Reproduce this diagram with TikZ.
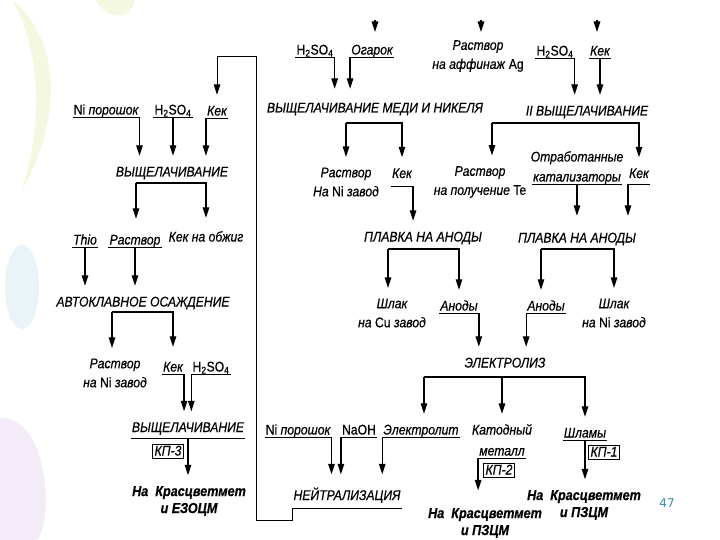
\documentclass[tikz,border=0pt]{standalone}
\usepackage{fontspec}
\setmainfont{Liberation Sans}[FakeStretch=0.87,FakeBold=0.5]
\newfontfamily\pagefont{DejaVu Sans}
\usetikzlibrary{arrows.meta,calc}
\definecolor{pagenum}{HTML}{3A8DAE}
\definecolor{petal}{HTML}{F5F8E0}
\definecolor{bubble}{HTML}{E9F3F8}
\definecolor{lilac}{HTML}{F3EBF7}
\newcommand{\hso}{\textup{H\textsubscript{2}SO\textsubscript{4}}}
\tikzset{>={Triangle[length=10.5pt,width=6.5pt]},
  every node/.style={font=\fontsize{14}{19}\selectfont\itshape,inner xsep=1pt,inner ysep=1.5pt},
  item/.style={text height=10pt,text depth=1pt},
  rule/.style={line width=1pt},
  feed/.style={item,append after command={\pgfextra{\let\feednode\tikzlastnode}
    (\feednode.south west) edge[rule] (\feednode.south east)}},
  note/.style={align=center},
  flow/.style={->,line width=1.3pt,shorten >=9pt},
  inlet/.style={->,line width=1.3pt},
  tag/.style={item,draw,line width=.7pt,inner xsep=2pt},
  dest/.style={note,font=\fontsize{14.5}{17}\selectfont\bfseries\itshape}}

\begin{document}
\begin{tikzpicture}[x=1pt,y=-1pt]
\path[use as bounding box,fill=white] (0,0) rectangle (720,540);
\fill[petal] (12,0) .. controls (62,40) and (62,120) .. (22,190) .. controls (44,120) and (40,50) .. (12,0) -- cycle;
\fill[petal] (95,0) .. controls (110,22) and (130,20) .. (135,0) -- cycle;
\fill[bubble] (22,287) ellipse (17 and 42);
\fill[lilac] (0,418) .. controls (55,418) and (52,540) .. (34,540) -- (0,540) -- cycle;

% left branch
\node[feed] (niA) at (106,110) {\textup{Ni} порошок};
\node[feed] (hA) at (173,110) {\hso};
\node[feed] (kekA) at (217,111) {Кек};
\node[item] (leachA) at (172,172) {ВЫЩЕЛАЧИВАНИЕ};
\node[feed] (thio) at (85,240) {Thio};
\node[feed] (rastA) at (135,240) {Раствор};
\node[item] (kekObzh) at (206,237) {Кек на обжиг};
\node[item] (auto) at (143,302) {АВТОКЛАВНОЕ ОСАЖДЕНИЕ};
\node[note] (rastB) at (115,373) {Раствор\\на \textup{Ni} завод};
\node[feed] (kekB) at (173,367) {Кек};
\node[feed] (hB) at (211,367) {\hso};
\node[feed,anchor=base,text depth=4.5pt] (leachB) at (188,432) {ВЫЩЕЛАЧИВАНИЕ};
\node[tag] (kp3) at (168,451) {КП-3};
\node[dest] (destA) at (189,501) {На\ \ Красцветмет\\и ЕЗОЦМ};

% copper and nickel
\node[feed] (hC) at (315,50) {\hso};
\node[feed] (ogarok) at (372,50) {Огарок};
\node[note] (rastAg) at (478,56) {Раствор\\на аффинаж \textup{Ag}};
\node[feed] (hD) at (555,51) {\hso};
\node[feed] (kekD) at (600,51) {Кек};
\node[item] (leachCu) at (375,108) {ВЫЩЕЛАЧИВАНИЕ МЕДИ И НИКЕЛЯ};
\node[item] (leach2) at (587,111) {II ВЫЩЕЛАЧИВАНИЕ};
\node[note] (rastC) at (346,182) {Раствор\\На \textup{Ni} завод};
\node[feed,anchor=base,text depth=6.5pt] (kekC) at (402,178) {Кек};
\node[note] (rastTe) at (480,182) {Раствор\\на получение \textup{Te}};
\node[item] (katalA) at (577,157) {Отработанные};
\node[feed] (katalB) at (577,177) {катализаторы};
\node[feed,anchor=base,text depth=4.5pt] (kekE) at (639,178) {Кек};
\node[item] (plavA) at (423,237) {ПЛАВКА НА АНОДЫ};
\node[item] (plavB) at (577,238) {ПЛАВКА НА АНОДЫ};
\node[note] (shlakCu) at (392,313) {Шлак\\на \textup{Cu} завод};
\node[feed] (anodA) at (459,306) {Аноды};
\node[feed] (anodB) at (546,306) {Аноды};
\node[note] (shlakNi) at (614,313) {Шлак\\на \textup{Ni} завод};
\node[item] (elec) at (505,363) {ЭЛЕКТРОЛИЗ};
\node[feed] (niB) at (298,430) {\textup{Ni} порошок};
\node[feed] (naoh) at (359,430) {\textup{NaOH}};
\node[feed] (electrolit) at (421,430) {Электролит};
\node[item] (katodA) at (502,430) {Катодный};
\node[feed] (katodB) at (502,451) {металл};
\node[feed] (shlamy) at (585,433) {Шламы};
\node[tag] (kp2) at (499,470) {КП-2};
\node[tag] (kp1) at (604,452) {КП-1};
\node[feed,anchor=base,text depth=6.5pt] (neutr) at (347,500) {НЕЙТРАЛИЗАЦИЯ};
\node[dest] (destB) at (485,523) {На\ \ Красцветмет\\и ПЗЦМ};
\node[dest] (destC) at (584,505) {На\ \ Красцветмет\\и ПЗЦМ};
\node[font=\pagefont\fontsize{12}{14}\selectfont,text=pagenum] (page) at (667,503) {47};

\coordinate (jA) at (136,183);
\coordinate (jB) at (112,312);
\coordinate (jC) at (346,123);
\coordinate (jD) at (492,123);
\coordinate (jE) at (388,249);
\coordinate (jF) at (541,249);
\coordinate (jG) at (424,377);
\coordinate (inA) at (375,20);
\coordinate (inB) at (481,20);
\coordinate (inC) at (597,20);
\coordinate (retB) at (256,520);
\coordinate (retT) at (256,57);

\draw[flow] (niA.south east) -- (niA.south east |- leachA.north);
\draw[flow] (hA.south) -- (hA.south |- leachA.north);
\draw[flow] (kekA.south west) -- (kekA.south west |- leachA.north);
\draw[flow,shorten >=14pt] (jA) -- (jA |- rastA.north);
\draw[flow,shorten >=12pt] (jA) -| (kekObzh.north);
\draw[flow] (thio.south) -- (thio.south |- auto.north);
\draw[flow] (rastA.south) -- (rastA.south |- auto.north);
\draw[flow] (jB) -- (jB |- rastB.north);
\draw[flow,shorten >=13pt] (jB) -| (kekB.north);
\draw[flow] (kekB.south east) -- (kekB.south east |- leachB.north);
\draw[flow] (hB.south west) -- (hB.south west |- leachB.north);
\draw[flow] (leachB.south) -- (leachB.south |- destA.north);

\draw[inlet] (inA) -- ++(0,12);
\draw[inlet] (inB) -- ++(0,12);
\draw[inlet] (inC) -- ++(0,12);
\draw[flow,shorten >=12pt] (hC.south east) -- (hC.south east |- leachCu.north);
\draw[flow,shorten >=12pt] (ogarok.south west) -- (ogarok.south west |- leachCu.north);
\draw[flow] (hD.south east) -- (hD.south east |- leach2.north);
\draw[flow] (kekD.south) -- (kekD.south |- leach2.north);
\draw[flow] (jC) -- (jC |- rastC.north);
\draw[flow] (jC) -| (kekC.north);
\draw[flow] (jD) -- (jD |- rastTe.north);
\draw[flow] (jD) -| (kekE.north);
\draw[flow] (kekC.south east) -- (kekC.south east |- plavA.north);
\draw[flow,shorten >=15pt] (katalB.south) -- (katalB.south |- plavB.north);
\draw[flow,shorten >=15pt] (kekE.south west) -- (kekE.south west |- plavB.north);
\draw[flow] (jE) -- (jE |- shlakCu.north);
\draw[flow] (jE) -| (anodA.north);
\draw[flow] (jF) -- (jF |- anodB.north);
\draw[flow] (jF) -| (shlakNi.north);
\draw[flow] (anodA.south east) -- (anodA.south east |- elec.north);
\draw[flow] (anodB.south west) -- (anodB.south west |- elec.north);
\draw[flow] (jG) -- (jG |- electrolit.north);
\draw[flow] (jG -| katodA.north) -- (katodA.north);
\draw[flow] (jG) -| (shlamy.north);
\draw[flow,shorten >=14pt] (niB.south east) -- (niB.south east |- neutr.north);
\draw[flow,shorten >=14pt] (naoh.south west) -- (naoh.south west |- neutr.north);
\draw[flow,shorten >=14pt] (electrolit.south west) -- (electrolit.south west |- neutr.north);
\draw[flow,shorten >=16pt] (katodB.south west) -- (katodB.south west |- destB.north);
\draw[flow] (shlamy.south) -- (shlamy.south |- destC.north);

% recycle from neutralisation back to the first leach
\draw[flow,line width=1pt] (neutr.south west) |- (retB) -- (retT) -| (kekA.north);
\end{tikzpicture}
\end{document}
